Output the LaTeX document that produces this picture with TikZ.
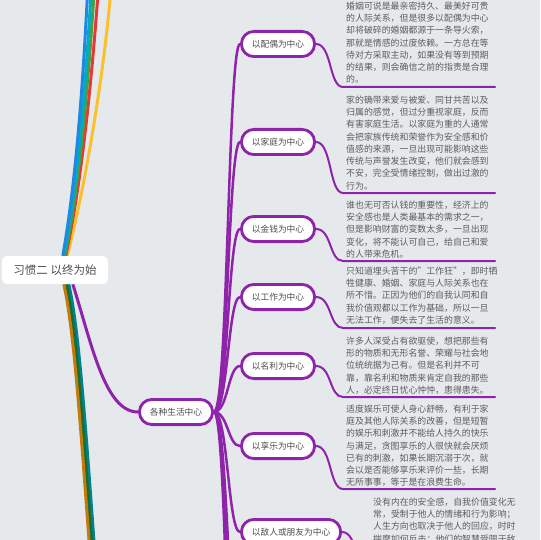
\documentclass[tikz,border=0pt]{standalone}
\usepackage{fontspec}
\setmainfont{Noto Sans CJK SC}
\definecolor{bgc}{HTML}{E6E9EC}
\definecolor{pur}{HTML}{8E24AA}
\definecolor{txt}{HTML}{5C5C5C}
\definecolor{ntxt}{HTML}{4D4D4D}
\definecolor{lblue}{HTML}{1E88E5}
\definecolor{lteal}{HTML}{00ACC1}
\definecolor{lgreen}{HTML}{43A047}
\definecolor{lred}{HTML}{E53935}
\definecolor{lyellow}{HTML}{FBC02D}
\definecolor{lorange}{HTML}{C27C0E}
\definecolor{ldgreen}{HTML}{1E6B30}
\definecolor{ldteal}{HTML}{00838F}
\pgfdeclarelayer{bg}
\pgfsetlayers{bg,main}
\begin{document}
\begin{tikzpicture}[x=1pt,y=-1pt,
  rootbox/.style={fill=white, rounded corners=5pt, minimum width=106pt, minimum height=28pt,
    inner sep=0pt, font=\fontsize{11.5}{13}\selectfont, text=ntxt},
  topic/.style={draw=pur, line width=2.8pt, fill=white, rounded corners=12.5pt,
    minimum height=25.2pt, inner xsep=10.5pt, inner ysep=0pt, anchor=west,
    font=\fontsize{8.7}{10}\selectfont, text=ntxt},
  desc/.style={anchor=base west, text width=170pt, align=left, inner sep=0pt,
    font=\fontsize{8.9}{12.25}\selectfont, text=txt},
  upl/.style={line width=3pt},
  br/.style={draw=pur, line width=2.5pt, line cap=round},
  lf/.style={draw=pur, line width=2pt, line cap=round},
]
\useasboundingbox (0,0) rectangle (540,540);
\clip (0,0) rectangle (540,540);

% nodes
\node[rootbox] (root) at (55,270) {习惯二 以终为始};
\node[topic] (mid) at (138,412) {各种生活中心};
\node[topic] (c1) at (240,44) {以配偶为中心};
\node[topic] (c2) at (240,142) {以家庭为中心};
\node[topic] (c3) at (240,229) {以金钱为中心};
\node[topic] (c4) at (240,297) {以工作为中心};
\node[topic] (c5) at (240,366) {以名利为中心};
\node[topic] (c6) at (240,446) {以享乐为中心};
\node[topic] (c7) at (240,532) {以敌人或朋友为中心};

\node[desc] (d1) at (346,9.4) {婚姻可说是最亲密持久、最美好可贵\\
的人际关系，但是很多以配偶为中心\\
却将破碎的婚姻都源于一条导火索，\\
那就是情感的过度依赖。一方总在等\\
待对方采取主动，如果没有等到预期\\
的结果，则会确信之前的指责是合理\\
的。};
\node[desc] (d2) at (346,103.4) {家的确带来爱与被爱、同甘共苦以及\\
归属的感觉，但过分重视家庭，反而\\
有害家庭生活。以家庭为重的人通常\\
会把家族传统和荣誉作为安全感和价\\
值感的来源，一旦出现可能影响这些\\
传统与声誉发生改变，他们就会感到\\
不安，完全受情绪控制，做出过激的\\
行为。};
\node[desc] (d3) at (346,208.4) {谁也无可否认钱的重要性，经济上的\\
安全感也是人类最基本的需求之一，\\
但是影响财富的变数太多，一旦出现\\
变化，将不能认可自己，给自己和爱\\
的人带来危机。};
\node[desc] (d4) at (346,274.4) {只知道埋头苦干的"工作狂"，即时牺\\
牲健康、婚姻、家庭与人际关系也在\\
所不惜。正因为他们的自我认同和自\\
我价值观都以工作为基础，所以一旦\\
无法工作，便失去了生活的意义。};
\node[desc] (d5) at (346,344.4) {许多人深受占有欲驱使，想把那些有\\
形的物质和无形名誉、荣耀与社会地\\
位统统据为己有。但是名利并不可\\
靠，靠名利和物质来肯定自我的那些\\
人，必定终日忧心忡忡，患得患失。};
\node[desc] (d6) at (346,412.4) {适度娱乐可使人身心舒畅，有利于家\\
庭及其他人际关系的改善，但是短暂\\
的娱乐和刺激并不能给人持久的快乐\\
与满足，贪图享乐的人很快就会厌烦\\
已有的刺激，如果长期沉溺于次，就\\
会以是否能够享乐来评价一些，长期\\
无所事事，等于是在浪费生命。};
\node[desc] (d7) at (373,505.4) {没有内在的安全感，自我价值变化无\\
常，受制于他人的情绪和行为影响；\\
人生方向也取决于他人的回应，时时\\
揣摩如何反击；他们的智慧受限于敌};

% free ends
\coordinate (u1) at (87.5,-6);
\coordinate (u2) at (91,-6);
\coordinate (u3) at (94,-6);
\coordinate (u4) at (98,-6);
\coordinate (u5) at (110.5,-6);
\coordinate (dn1) at (89.6,548);
\coordinate (dn2) at (92,548);
\coordinate (dn3) at (94.5,548);
\coordinate (b1) at (240,660);
\coordinate (b2) at (240,760);
\coordinate (b3) at (240,860);
\coordinate (e1a) at (343,87);  \coordinate (e1b) at (495,87);
\coordinate (e2a) at (343,193); \coordinate (e2b) at (495,193);
\coordinate (e3a) at (343,261); \coordinate (e3b) at (495,261);
\coordinate (e4a) at (343,328); \coordinate (e4b) at (495,328);
\coordinate (e5a) at (343,397); \coordinate (e5b) at (495,397);
\coordinate (e6a) at (343,489); \coordinate (e6b) at (495,489);
\coordinate (e7a) at (371,576); \coordinate (e7b) at (520,576);

\begin{pgfonlayer}{bg}
\clip (0,0) rectangle (540,540);
\fill[bgc] (0,0) rectangle (540,540);
% upward colored branches
\draw[upl, lyellow] ([xshift=65.5pt]root.north west) .. controls (89,170) and (105,60) .. (u5);
\draw[upl, lred] ([xshift=64pt]root.north west) .. controls (84,170) and (93,60) .. (u4);
\draw[upl, lgreen] ([xshift=63pt]root.north west) .. controls (82,170) and (89.5,60) .. (u3);
\draw[upl, lteal] ([xshift=62pt]root.north west) .. controls (80,170) and (87,60) .. (u2);
\draw[upl, lblue] ([xshift=61pt]root.north west) .. controls (78,170) and (84,60) .. (u1);
% downward colored branches
\draw[upl, ldteal] ([xshift=67pt]root.south west) .. controls (79,330) and (85,420) .. (dn3);
\draw[upl, ldgreen] ([xshift=64.5pt]root.south west) .. controls (76.5,330) and (82.5,420) .. (dn2);
\draw[upl, lorange] ([xshift=62pt]root.south west) .. controls (74,330) and (80,420) .. (dn1);
% root to mid
\draw[pur, line width=3pt] ([xshift=71pt]root.south west) .. controls (92,345) and (105,412) .. (mid.west);
% mid to children
\foreach \t in {c1,c2,c3,c4,c5,c6,c7,b1,b2,b3}
  \draw[br] (mid.east) .. controls +(14,0) and +(-12,0) .. (\t.west);
% children to descriptions
\draw[lf] (c1.east) .. controls +(16,0) and +(-14,0) .. (e1a) -- (e1b);
\draw[lf] (c2.east) .. controls +(16,0) and +(-14,0) .. (e2a) -- (e2b);
\draw[lf] (c3.east) .. controls +(16,0) and +(-14,0) .. (e3a) -- (e3b);
\draw[lf] (c4.east) .. controls +(16,0) and +(-14,0) .. (e4a) -- (e4b);
\draw[lf] (c5.east) .. controls +(16,0) and +(-14,0) .. (e5a) -- (e5b);
\draw[lf] (c6.east) .. controls +(16,0) and +(-14,0) .. (e6a) -- (e6b);
\draw[lf] (c7.east) .. controls +(16,0) and +(-14,0) .. (e7a) -- (e7b);
\end{pgfonlayer}
\end{tikzpicture}
\end{document}
